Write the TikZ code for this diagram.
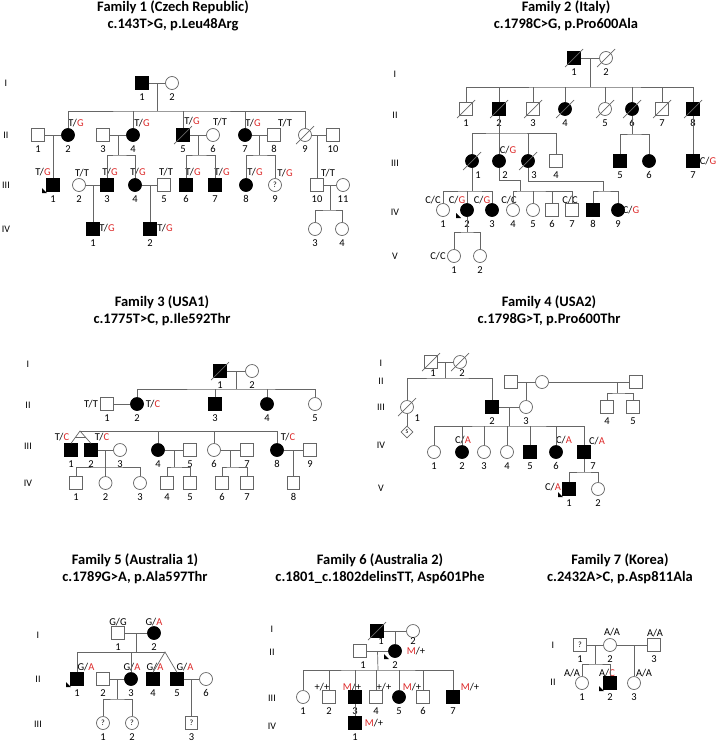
\documentclass[tikz,border=0pt]{standalone}
\usepackage{fontspec}
\setmainfont{Carlito}
\usepackage{xcolor}
\usetikzlibrary{calc, shapes.geometric}
\definecolor{gtred}{RGB}{220, 40, 40}
\newcommand{\mut}[1]{\textcolor{gtred}{#1}}
\newcommand{\dead}[1]{\draw[ln] ([shift={(-9,9)}]#1.center) -- ([shift={(9,-9)}]#1.center);}
\newcommand{\prob}[1]{\fill ([shift={(-11,3)}]#1.center) -- ([shift={(-11,8)}]#1.center) -- ([shift={(-6,8)}]#1.center) -- cycle;}

\begin{document}
\begin{tikzpicture}[x=1pt, y=-1pt, font=\fontsize{10}{12}\selectfont,
  label distance=3.5pt,
  ln/.style={draw=black!60, line width=0.7pt},
  sq/.style={rectangle, draw=black!60, line width=0.7pt, minimum size=12.5pt, inner sep=0pt, fill=white, font=\fontsize{8}{8}\selectfont},
  ci/.style={circle, draw=black!60, line width=0.7pt, minimum size=13pt, inner sep=0pt, fill=white, font=\fontsize{8}{8}\selectfont},
  aff/.style={fill=black, draw=black},
  num/.style={inner sep=0pt, font=\fontsize{10.5}{12}\selectfont},
  nr/.style={label={[num]below:#1}},
  nrr/.style={label={[num,xshift=6pt]below:#1}},
  gt/.style={inner sep=0pt, font=\fontsize{10.5}{12}\selectfont},
  ttl/.style={font=\bfseries\fontsize{14.5}{17}\selectfont, align=center},
  dm/.style={diamond, draw=black!60, line width=0.7pt, minimum size=12pt, inner sep=0pt, font=\fontsize{6}{6}\selectfont}]
\useasboundingbox (0,0) rectangle (718,742);

% Family 1
\node[ttl] (f1t) at (173,16) {Family 1 (Czech Republic)\\c.143T>G, p.Leu48Arg};
\node (f1g1) at (6,83) {I};
\node (f1g2) at (6,135) {II};
\node (f1g3) at (6,185) {III};
\node (f1g4) at (6,229) {IV};
\node[sq,aff,nr=1] (f1I1) at (142,83) {};
\node[ci,nr=2] (f1I2) at (172,83) {};
\node[sq,nr=1] (f1II1) at (38,135) {};
\node[ci,aff,nr=2] (f1II2) at (68,135) {};
\node[sq,nr=3] (f1II3) at (103,135) {};
\node[ci,aff,nr=4] (f1II4) at (133,135) {};
\node[sq,aff,nr=5] (f1II5) at (183,135) {};
\node[ci,nr=6] (f1II6) at (213,135) {};
\node[ci,aff,nr=7] (f1II7) at (245,135) {};
\node[sq,nr=8] (f1II8) at (274,135) {};
\node[ci,nr=9] (f1II9) at (305,135) {};
\node[sq,nr=10] (f1II10) at (333,135) {};
\node[sq,aff,nr=1] (f1III1) at (53,185) {};
\node[ci,nr=2] (f1III2) at (79,185) {};
\node[sq,aff,nr=3] (f1III3) at (107,185) {};
\node[ci,aff,nr=4] (f1III4) at (135,185) {};
\node[sq,nr=5] (f1III5) at (164,185) {};
\node[sq,aff,nr=6] (f1III6) at (186,185) {};
\node[sq,aff,nr=7] (f1III7) at (215,185) {};
\node[ci,aff,nr=8] (f1III8) at (246,185) {};
\node[ci,nr=9] (f1III9) at (275,185) {?};
\node[sq,nr=10] (f1III10) at (317,185) {};
\node[ci,nr=11] (f1III11) at (343,185) {};
\node[sq,aff,nr=1] (f1IV1) at (93,229) {};
\node[sq,aff,nr=2] (f1IV2) at (150,229) {};
\node[ci,nr=3] (f1IV3) at (315,229) {};
\node[ci,nr=4] (f1IV4) at (342,229) {};
\node[gt] (f1x1) at (76,123) {T/\mut{G}};
\node[gt] (f1x2) at (142,123) {T/\mut{G}};
\node[gt] (f1x3) at (192,121) {T/\mut{G}};
\node[gt] (f1x4) at (220,122) {T/T};
\node[gt] (f1x5) at (253,123) {T/\mut{G}};
\node[gt] (f1x6) at (285,123) {T/T};
\node[gt] (f1x7) at (43,172) {T/\mut{G}};
\node[gt] (f1x8) at (82,173) {T/T};
\node[gt] (f1x9) at (110,172) {T/\mut{G}};
\node[gt] (f1x10) at (138,172) {T/\mut{G}};
\node[gt] (f1x11) at (166,172) {T/T};
\node[gt] (f1x12) at (193,172) {T/\mut{G}};
\node[gt] (f1x13) at (222,172) {T/\mut{G}};
\node[gt] (f1x14) at (255,172) {T/\mut{G}};
\node[gt] (f1x15) at (285,173) {T/\mut{G}};
\node[gt] (f1x16) at (328,173) {T/T};
\node[gt] (f1x17) at (107,228) {T/\mut{G}};
\node[gt] (f1x18) at (165,228) {T/\mut{G}};
\dead{f1II5}
\dead{f1II9}
\prob{f1III1}
\draw[ln] (f1I1) -- (f1I2);
\coordinate (f1k0) at (157,111);
\draw[ln] ($(f1I1)!.5!(f1I2)$) -- (f1k0);
\draw[ln] (f1II2) |- (f1k0) -| (f1II9);
\foreach \c in {f1II4,f1II5,f1II7} \draw[ln] (\c) -- (\c |- f1k0);
\draw[ln] (f1II1) -- (f1II2);
\draw[ln] (f1III1 |- f1II1) -- (f1III1);
\draw[ln] (f1II3) -- (f1II4);
\coordinate (f1k1) at (118,155);
\draw[ln] ($(f1II3)!.5!(f1II4)$) -- (f1k1);
\draw[ln] (f1III3) |- (f1k1) -| (f1III4);
\draw[ln] (f1II5) -- (f1II6);
\coordinate (f1k2) at (198,155);
\draw[ln] ($(f1II5)!.5!(f1II6)$) -- (f1k2);
\draw[ln] (f1III6) |- (f1k2) -| (f1III7);
\draw[ln] (f1II7) -- (f1II8);
\coordinate (f1k3) at (259.5,155);
\draw[ln] ($(f1II7)!.5!(f1II8)$) -- (f1k3);
\draw[ln] (f1III8) |- (f1k3) -| (f1III9);
\draw[ln] (f1II9) -- (f1II10);
\draw[ln] (f1III10 |- f1II9) -- (f1III10);
\draw[ln] (f1III2) -- (f1III3);
\draw[ln] (f1IV1 |- f1III2) -- (f1IV1);
\draw[ln] (f1III4) -- (f1III5);
\draw[ln] (f1IV2 |- f1III4) -- (f1IV2);
\draw[ln] (f1III10) -- (f1III11);
\coordinate (f1k4) at (330,210);
\draw[ln] ($(f1III10)!.5!(f1III11)$) -- (f1k4);
\draw[ln] (f1IV3) |- (f1k4) -| (f1IV4);

% Family 2
\node[ttl] (f2t) at (566,16) {Family 2 (Italy)\\c.1798C>G, p.Pro600Ala};
\node (f2g1) at (395,74) {I};
\node (f2g2) at (395,115) {II};
\node (f2g3) at (395,163) {III};
\node (f2g4) at (395,212) {IV};
\node (f2g5) at (395,256) {V};
\node[sq,aff,nr=1] (f2I1) at (574,58) {};
\node[ci,nr=2] (f2I2) at (606,58) {};
\node[sq,nr=1] (f2II1) at (466,109) {};
\node[sq,aff,nr=2] (f2II2) at (499,109) {};
\node[sq,nr=3] (f2II3) at (533,109) {};
\node[ci,aff,nr=4] (f2II4) at (565,109) {};
\node[ci,nr=5] (f2II5) at (605,109) {};
\node[ci,aff,nr=6] (f2II6) at (632,109) {};
\node[sq,nr=7] (f2II7) at (662,109) {};
\node[sq,aff,nr=8] (f2II8) at (693,109) {};
\node[ci,aff,nrr=1] (f2III1) at (472,161) {};
\node[ci,aff,nrr=2] (f2III2) at (499,161) {};
\node[ci,aff,nrr=3] (f2III3) at (528,161) {};
\node[sq,nr=4] (f2III4) at (556,161) {};
\node[sq,aff,nr=5] (f2III5) at (620,161) {};
\node[ci,aff,nr=6] (f2III6) at (649,161) {};
\node[sq,aff,nr=7] (f2III7) at (693,161) {};
\node[ci,nr=1] (f2IV1) at (443,210) {};
\node[ci,aff,nr=2] (f2IV2) at (467,210) {};
\node[ci,aff,nr=3] (f2IV3) at (492,210) {};
\node[ci,nr=4] (f2IV4) at (513,210) {};
\node[ci,nr=5] (f2IV5) at (533,210) {};
\node[sq,nr=6] (f2IV6) at (552,210) {};
\node[sq,nr=7] (f2IV7) at (572,210) {};
\node[sq,aff,nr=8] (f2IV8) at (593,210) {};
\node[ci,aff,nr=9] (f2IV9) at (618,210) {};
\node[ci,nr=1] (f2V1) at (454,256) {};
\node[ci,nr=2] (f2V2) at (480,256) {};
\node[gt] (f2x1) at (508,150) {C/\mut{G}};
\node[gt] (f2x2) at (708,161) {C/\mut{G}};
\node[gt] (f2x3) at (433,200) {C/C};
\node[gt] (f2x4) at (457,200) {C/\mut{G}};
\node[gt] (f2x5) at (482,200) {C/\mut{G}};
\node[gt] (f2x6) at (509,200) {C/C};
\node[gt] (f2x7) at (570,200) {C/C};
\node[gt] (f2x8) at (631,210) {C/\mut{G}};
\node[gt] (f2x9) at (438,256) {C/C};
\foreach \c in {f2I1,f2I2,f2II1,f2II2,f2II3,f2II4,f2II5,f2II6,f2II7,f2II8,f2III1,f2III3} {\dead{\c}}
\prob{f2IV2}
\draw[ln] (f2I1) -- (f2I2);
\coordinate (f2k0) at (590,87);
\draw[ln] ($(f2I1)!.5!(f2I2)$) -- (f2k0);
\draw[ln] (f2II1) |- (f2k0) -| (f2II8);
\foreach \c in {f2II2,f2II3,f2II4,f2II5,f2II6,f2II7} \draw[ln] (\c) -- (\c |- f2k0);
\coordinate (f2k1) at (499,133);
\draw[ln] (f2II2) -- (f2k1);
\draw[ln] (f2III1) |- (f2k1) -| (f2III4);
\foreach \c in {f2III2,f2III3} \draw[ln] (\c) -- (\c |- f2k1);
\coordinate (f2k2) at (634,134);
\draw[ln] (f2II6) -- (f2II6 |- f2k2);
\draw[ln] (f2III5) |- (f2k2) -| (f2III6);
\draw[ln] (f2II8) -- (f2III7);
\coordinate (f2k3) at (472,191);
\draw[ln] (f2III1) -- (f2k3);
\draw[ln] (f2IV1) |- (f2k3) -| (f2IV3);
\draw[ln] (f2IV2) -- (f2IV2 |- f2k3);
\coordinate (f2k4) at (520,191);
\draw[ln] (f2III2) |- (520,180) -- (f2k4);
\draw[ln] (f2IV4) |- (f2k4) -| (f2IV7);
\foreach \c in {f2IV5,f2IV6} \draw[ln] (\c) -- (\c |- f2k4);
\coordinate (f2k5) at (603,191);
\draw[ln] (f2III3) |- (603,181) -- (f2k5);
\draw[ln] (f2IV8) |- (f2k5) -| (f2IV9);
\coordinate (f2k6) at (467,232);
\draw[ln] (f2IV2) -- (f2k6);
\draw[ln] (f2V1) |- (f2k6) -| (f2V2);

% Family 3
\node[ttl] (f3t) at (162,311) {Family 3 (USA1)\\c.1775T>C, p.Ile592Thr};
\node (f3g1) at (28,364) {I};
\node (f3g2) at (28,405) {II};
\node (f3g3) at (28,446) {III};
\node (f3g4) at (28,483) {IV};
\node[sq,aff,nr=1] (f3I1) at (220,371) {};
\node[ci,nr=2] (f3I2) at (252,371) {};
\node[sq,nr=1] (f3II1) at (107,404) {};
\node[ci,aff,nr=2] (f3II2) at (137,404) {};
\node[sq,aff,nr=3] (f3II3) at (215,404) {};
\node[ci,aff,nr=4] (f3II4) at (267,404) {};
\node[ci,nr=5] (f3II5) at (315,404) {};
\node[sq,aff,nr=1] (f3III1) at (71,450) {};
\node[sq,aff,nr=2] (f3III2) at (91,450) {};
\node[ci,nr=3] (f3III3) at (120,450) {};
\node[ci,aff,nr=4] (f3III4) at (158,450) {};
\node[sq,nr=5] (f3III5) at (190,450) {};
\node[ci,nr=6] (f3III6) at (214,450) {};
\node[sq,nr=7] (f3III7) at (247,450) {};
\node[ci,aff,nr=8] (f3III8) at (277,450) {};
\node[sq,nr=9] (f3III9) at (310,450) {};
\node[sq,nr=1] (f3IV1) at (76,483) {};
\node[ci,nr=2] (f3IV2) at (105.5,483) {};
\node[ci,nr=3] (f3IV3) at (140,483) {};
\node[sq,nr=4] (f3IV4) at (167,483) {};
\node[sq,nr=5] (f3IV5) at (190,483) {};
\node[sq,nr=6] (f3IV6) at (222,483) {};
\node[sq,nr=7] (f3IV7) at (247,483) {};
\node[sq,nr=8] (f3IV8) at (293.5,483) {};
\node[gt] (f3x1) at (91,404) {T/T};
\node[gt] (f3x2) at (153,404) {T/\mut{C}};
\node[gt] (f3x3) at (62,437) {T/\mut{C}};
\node[gt] (f3x4) at (102,437) {T/\mut{C}};
\node[gt] (f3x5) at (288,437) {T/\mut{C}};
\dead{f3I1}
\draw[ln] (f3I1) -- (f3I2);
\coordinate (f3k0) at (236,389);
\draw[ln] ($(f3I1)!.5!(f3I2)$) -- (f3k0);
\draw[ln] (f3II2) |- (f3k0) -| (f3II5);
\foreach \c in {f3II3,f3II4} \draw[ln] (\c) -- (\c |- f3k0);
\draw[ln] (f3II1) -- (f3II2);
\coordinate (f3tw) at (80,431);
\draw[ln] ($(f3II1)!.5!(f3II2)$) -- ($(f3II1)!.5!(f3II2)$ |- f3tw);
\draw[ln] (f3tw) -| (f3III8);
\foreach \c in {f3III4,f3III6} \draw[ln] (\c) -- (\c |- f3tw);
\draw[ln] (f3III1.north) -- (f3tw) -- (f3III2.north);
\draw[ln] ($(f3tw)!.55!(f3III1.north)$) -- ($(f3tw)!.55!(f3III2.north)$);
\draw[ln] (f3III2) -- (f3III3);
\coordinate (f3k1) at (105.5,467);
\draw[ln] (f3IV2 |- f3III2) -- (f3IV2);
\draw[ln] (f3IV1) |- (f3k1) -| (f3IV3);
\draw[ln] (f3III4) -- (f3III5);
\coordinate (f3k2) at (174,467);
\draw[ln] ($(f3III4)!.5!(f3III5)$) -- (f3k2);
\draw[ln] (f3IV4) |- (f3k2) -| (f3IV5);
\draw[ln] (f3III6) -- (f3III7);
\coordinate (f3k3) at (230.5,467);
\draw[ln] ($(f3III6)!.5!(f3III7)$) -- (f3k3);
\draw[ln] (f3IV6) |- (f3k3) -| (f3IV7);
\draw[ln] (f3III8) -- (f3III9);
\draw[ln] (f3IV8 |- f3III8) -- (f3IV8);

% Family 4
\node[ttl] (f4t) at (549,311) {Family 4 (USA2)\\c.1798G>T, p.Pro600Thr};
\node (f4g1) at (381,363) {I};
\node (f4g2) at (381,381) {II};
\node (f4g3) at (381,407) {III};
\node (f4g4) at (381,445) {IV};
\node (f4g5) at (381,488) {V};
\node[sq,label={[num,xshift=2pt,yshift=3pt]below:1}] (f4I1) at (431,362) {};
\node[ci,label={[num,xshift=2pt,yshift=3pt]below:2}] (f4I2) at (460,362) {};
\node[sq] (f4IIa) at (511,382) {};
\node[ci] (f4IIb) at (542,382) {};
\node[sq] (f4IIc) at (636,382) {};
\node[ci,label={[num]below right:1}] (f4III1) at (407,407) {};
\node[dm] (f4s) at (407,432) {S};
\node[sq,aff,nr=2] (f4III2) at (492,407) {};
\node[ci,nr=3] (f4III3) at (526,407) {};
\node[sq,nr=4] (f4III4) at (607,407) {};
\node[sq,nr=5] (f4III5) at (633,407) {};
\node[ci,nr=1] (f4IV1) at (434,452) {};
\node[ci,aff,nr=2] (f4IV2) at (462,452) {};
\node[ci,nr=3] (f4IV3) at (484,452) {};
\node[ci,nr=4] (f4IV4) at (507,452) {};
\node[sq,aff,nr=5] (f4IV5) at (530,452) {};
\node[ci,aff,nr=6] (f4IV6) at (556,452) {};
\node[sq,aff,label={[num,xshift=9pt]below:7}] (f4IV7) at (584,452) {};
\node[sq,aff,nr=1] (f4V1) at (569,489) {};
\node[ci,nr=2] (f4V2) at (598,489) {};
\node[gt] (f4x1) at (463,440) {C/\mut{A}};
\node[gt] (f4x2) at (564,440) {C/\mut{A}};
\node[gt] (f4x3) at (597,441) {C/\mut{A}};
\node[gt] (f4x4) at (553,487) {C/\mut{A}};
\dead{f4I1}
\dead{f4I2}
\dead{f4III1}
\prob{f4V1}
\draw[ln] (f4I1) -- (f4I2);
\coordinate (f4k0) at (445.5,378);
\draw[ln] ($(f4I1)!.5!(f4I2)$) -- (f4k0);
\draw[ln] (f4III1) |- (f4k0) -| (f4III2);
\draw[ln] (f4III1) -- (f4s);
\draw[ln] (f4IIa) -- (f4IIb);
\draw[ln] (f4III3 |- f4IIb) -- (f4III3);
\draw[ln] (f4IIb) -- (f4IIc);
\coordinate (f4k1) at (617,393);
\draw[ln] (f4k1 |- f4IIb) -- (f4k1);
\draw[ln] (f4III4) |- (f4k1) -| (f4III5);
\draw[ln] (f4III2) -- (f4III3);
\coordinate (f4k2) at (509,426);
\draw[ln] ($(f4III2)!.5!(f4III3)$) -- (f4k2);
\draw[ln] (f4IV1) |- (f4k2) -| (f4IV7);
\foreach \c in {f4IV2,f4IV3,f4IV4,f4IV5,f4IV6} \draw[ln] (\c) -- (\c |- f4k2);
\coordinate (f4k3) at (584,472);
\draw[ln] (f4IV7) -- (f4k3);
\draw[ln] (f4V1) |- (f4k3) -| (f4V2);

% Family 5
\node[ttl] (f5t) at (135,569) {Family 5 (Australia 1)\\c.1789G>A, p.Ala597Thr};
\node (f5g1) at (38,635) {I};
\node (f5g2) at (38,679) {II};
\node (f5g3) at (38,724) {III};
\node[sq,nr=1] (f5I1) at (118,633) {};
\node[ci,aff,nr=2] (f5I2) at (154,633) {};
\node[sq,aff,nr=1] (f5II1) at (77,679) {};
\node[sq,nr=2] (f5II2) at (103,679) {};
\node[ci,aff,nr=3] (f5II3) at (131,679) {};
\node[sq,aff,nr=4] (f5II4) at (153,679) {};
\node[sq,aff,nr=5] (f5II5) at (177,679) {};
\node[ci,nr=6] (f5II6) at (206,679) {};
\node[ci,nr=1] (f5III1) at (103,723) {?};
\node[ci,nr=2] (f5III2) at (132,723) {?};
\node[sq,nr=3] (f5III3) at (191.5,723) {?};
\node[gt] (f5x1) at (118,622) {G/G};
\node[gt] (f5x2) at (154,622) {G/\mut{A}};
\node[gt] (f5x3) at (86,667) {G/\mut{A}};
\node[gt] (f5x4) at (132,667) {G/\mut{A}};
\node[gt] (f5x5) at (155,667) {G/\mut{A}};
\node[gt] (f5x6) at (185,667) {G/\mut{A}};
\prob{f5II1}
\draw[ln] (f5I1) -- (f5I2);
\coordinate (f5k0) at (136,652);
\coordinate (f5tw) at (165,652);
\draw[ln] ($(f5I1)!.5!(f5I2)$) -- (f5k0);
\draw[ln] (f5II1) |- (f5tw);
\draw[ln] (f5II3) -- (f5II3 |- f5k0);
\draw[ln] (f5II4.north) -- (f5tw) -- (f5II5.north);
\draw[ln] (f5II2) -- (f5II3);
\coordinate (f5k1) at (117,699);
\draw[ln] ($(f5II2)!.5!(f5II3)$) -- (f5k1);
\draw[ln] (f5III1) |- (f5k1) -| (f5III2);
\draw[ln] (f5II5) -- (f5II6);
\draw[ln] (f5III3 |- f5II5) -- (f5III3);

% Family 6
\node[ttl] (f6t) at (380,569) {Family 6 (Australia 2)\\c.1801\_c.1802delinsTT, Asp601Phe};
\node (f6g1) at (272,629) {I};
\node (f6g2) at (272,652) {II};
\node (f6g3) at (272,698) {III};
\node (f6g4) at (272,726) {IV};
\node[sq,aff,label={[num,xshift=4pt,yshift=4pt]below:1}] (f6I1) at (377,631) {};
\node[ci,label={[num,yshift=4pt]below:2}] (f6I2) at (413,631) {};
\node[sq,label={[num,xshift=3pt]below:1}] (f6II1) at (360,651) {};
\node[ci,aff,nr=2] (f6II2) at (395,651) {};
\node[ci,nr=1] (f6III1) at (303,697) {};
\node[sq,nr=2] (f6III2) at (329,697) {};
\node[sq,aff,nr=3] (f6III3) at (355,697) {};
\node[sq,nr=4] (f6III4) at (376,697) {};
\node[ci,aff,nr=5] (f6III5) at (399,697) {};
\node[sq,nr=6] (f6III6) at (423,697) {};
\node[sq,aff,nr=7] (f6III7) at (453,697) {};
\node[sq,aff,nr=1] (f6IV1) at (355,723) {};
\node[gt] (f6x1) at (416,651) {\mut{M}/+};
\node[gt] (f6x2) at (322,687) {+/+};
\node[gt] (f6x3) at (352,687) {\mut{M}/+};
\node[gt] (f6x4) at (384,687) {+/+};
\node[gt] (f6x5) at (412,687) {\mut{M}/+};
\node[gt] (f6x6) at (470,687) {\mut{M}/+};
\node[gt] (f6x7) at (374,723) {\mut{M}/+};
\dead{f6I1}
\prob{f6II2}
\draw[ln] (f6I1) -- (f6I2);
\draw[ln] (f6II2 |- f6I1) -- (f6II2);
\draw[ln] (f6II1) -- (f6II2);
\coordinate (f6k0) at (378,670);
\draw[ln] ($(f6II1)!.5!(f6II2)$) -- (f6k0);
\draw[ln] (f6III1) |- (f6k0) -| (f6III7);
\foreach \c in {f6III2,f6III3,f6III4,f6III5,f6III6} \draw[ln] (\c) -- (\c |- f6k0);
\draw[ln] (f6III3) -- (f6IV1);

% Family 7
\node[ttl] (f7t) at (620,569) {Family 7 (Korea)\\c.2432A>C, p.Asp811Ala};
\node (f7g1) at (553,645) {I};
\node (f7g2) at (553,682) {II};
\node[sq,nr=1] (f7I1) at (580,645) {?};
\node[ci,nr=2] (f7I2) at (610,645) {};
\node[sq,nr=3] (f7I3) at (654,645) {};
\node[ci,nr=1] (f7II1) at (582,683) {};
\node[sq,aff,nr=2] (f7II2) at (610,683) {};
\node[ci,nr=3] (f7II3) at (634,683) {};
\node[gt] (f7x1) at (612,632) {A/A};
\node[gt] (f7x2) at (655,633) {A/A};
\node[gt] (f7x3) at (572,673) {A/A};
\node[gt] (f7x4) at (607,673) {A/\mut{C}};
\node[gt] (f7x5) at (644,673) {A/A};
\prob{f7II2}
\draw[ln] (f7I1) -- (f7I2);
\coordinate (f7k0) at (595,664);
\draw[ln] ($(f7I1)!.5!(f7I2)$) -- (f7k0);
\draw[ln] (f7II1) |- (f7k0) -| (f7II2);
\draw[ln] (f7I2) -- (f7I3);
\draw[ln] (f7II3 |- f7I2) -- (f7II3);
\end{tikzpicture}
\end{document}
